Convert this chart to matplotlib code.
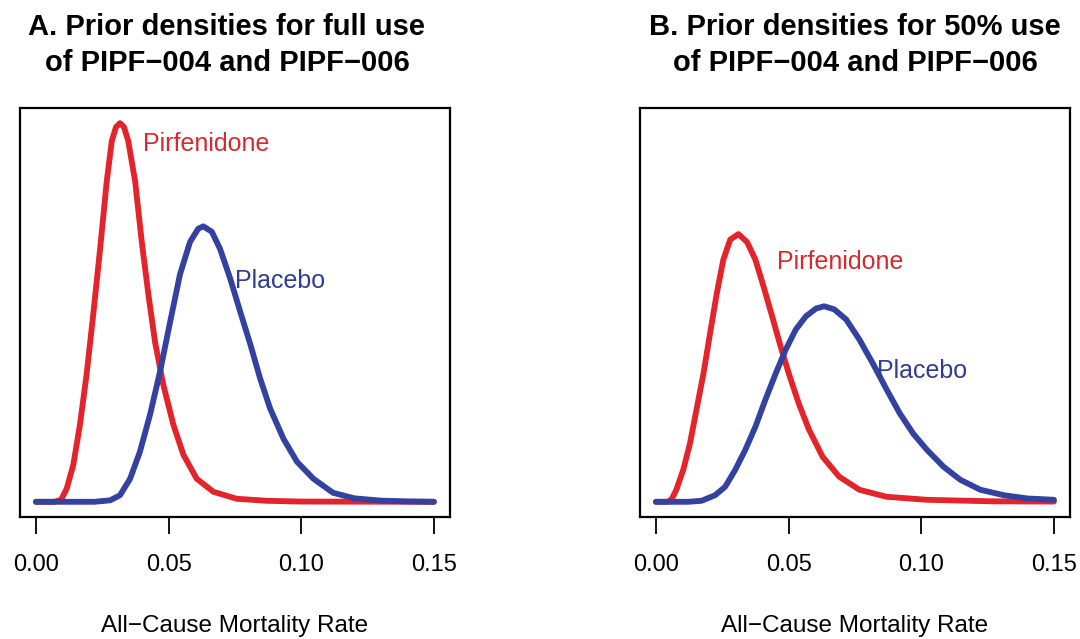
import matplotlib
matplotlib.use("Agg")
import matplotlib.pyplot as plt
import numpy as np

plt.rcParams["font.family"] = ["Liberation Sans", "DejaVu Sans"]

a_pirf_x = [0.000, 0.007, 0.0095, 0.0116, 0.0141, 0.0166, 0.0191, 0.0216, 0.0242, 0.0267,
            0.0286, 0.0302, 0.0317, 0.0332, 0.0348, 0.0374, 0.0399, 0.0424, 0.0449, 0.048,
            0.0518, 0.0556, 0.0606, 0.0669, 0.0757, 0.087, 0.10, 0.15]
a_pirf_y = [0, 0, 0.26, 1.68, 4.77, 9.94, 16.4, 24.1, 32.6, 41.3,
            46.5, 48.3, 48.8, 48.3, 46.5, 41.3, 33.5, 26.7, 20.6, 15.1,
            9.94, 6.06, 2.97, 1.29, 0.39, 0.13, 0.03, 0]

a_plac_x = [0.000, 0.022, 0.028, 0.0317, 0.0355, 0.0392, 0.043, 0.0468, 0.0506, 0.0543,
            0.0581, 0.0612, 0.0631, 0.0663, 0.0694, 0.0732, 0.077, 0.0808, 0.0845, 0.0883,
            0.0933, 0.0984, 0.1046, 0.112, 0.12, 0.13, 0.14, 0.15]
a_plac_y = [0, 0, 0.19, 0.85, 2.97, 6.45, 11.2, 16.8, 23.2, 29.3,
            33.5, 35.2, 35.5, 34.8, 32.6, 28.8, 24.5, 20.3, 15.9, 12.0,
            8.13, 5.16, 2.97, 1.16, 0.45, 0.15, 0.05, 0]

b_pirf_x = [0.000, 0.0046, 0.006, 0.0077, 0.0103, 0.0128, 0.0153, 0.0179, 0.0204, 0.0229,
            0.0254, 0.028, 0.0311, 0.0343, 0.0375, 0.0406, 0.0438, 0.047, 0.0501, 0.0539,
            0.0577, 0.0628, 0.0691, 0.0767, 0.0869, 0.102, 0.127, 0.15]
b_pirf_y = [0, 0, 0.39, 1.55, 4.13, 7.48, 11.9, 16.5, 21.7, 26.8,
            31.2, 33.8, 34.5, 33.5, 31.2, 27.7, 23.9, 20.0, 16.5, 12.6,
            9.29, 5.81, 3.23, 1.55, 0.65, 0.26, 0.06, 0.03]

b_plac_x = [0.000, 0.012, 0.0172, 0.0223, 0.0261, 0.0299, 0.0337, 0.0375, 0.0413, 0.0451,
            0.0489, 0.0527, 0.0565, 0.0603, 0.0634, 0.0672, 0.0717, 0.0767, 0.0818, 0.0869,
            0.0919, 0.097, 0.1021, 0.1084, 0.1147, 0.1223, 0.1311, 0.14, 0.15]
b_plac_y = [0, 0, 0.13, 0.85, 1.94, 4.13, 6.71, 9.68, 13.2, 16.5,
            19.6, 22.2, 23.9, 24.9, 25.2, 24.8, 23.5, 20.9, 17.8, 14.5,
            11.4, 8.77, 6.71, 4.52, 2.84, 1.55, 0.85, 0.43, 0.26]

x_ticks = [0.00, 0.05, 0.10, 0.15]
x_tick_labels = ["0.00", "0.05", "0.10", "0.15"]

titles = ["A. Prior densities for full use\nof PIPF\u2212004 and PIPF\u2212006",
          "B. Prior densities for 50% use\nof PIPF\u2212004 and PIPF\u2212006"]
xlabel = "All\u2212Cause Mortality Rate"

# label anchor points (data coords) for each panel
pirf_label_pos = [(0.0404, 46.1), (0.0456, 30.9)]
plac_label_pos = [(0.0751, 28.4), (0.0832, 16.9)]

RED = "#e3242b"
BLUE = "#3341a0"
RED_TXT = "#d52b2f"
BLUE_TXT = "#313d92"

fig = plt.figure(figsize=(10.8, 6.39), dpi=100)
ax_a = fig.add_axes([0.0185, 0.191, 0.398, 0.640])
ax_b = fig.add_axes([0.5926, 0.191, 0.398, 0.640])

ymax = max(a_pirf_y)
panels = [(ax_a, a_pirf_x, a_pirf_y, a_plac_x, a_plac_y),
          (ax_b, b_pirf_x, b_pirf_y, b_plac_x, b_plac_y)]

for i, (ax, px, py, bx, by) in enumerate(panels):
    ax.plot(px, py, color=RED, lw=4.2, solid_capstyle="round", solid_joinstyle="round")
    ax.plot(bx, by, color=BLUE, lw=4.2, solid_capstyle="round", solid_joinstyle="round")
    ax.set_xlim(-0.006, 0.156)
    ax.set_ylim(-0.04 * ymax, 1.04 * ymax)
    ax.set_yticks([])
    ax.set_xticks(x_ticks)
    ax.set_xticklabels(x_tick_labels)
    ax.tick_params(axis="x", length=12, width=1.3, pad=15, labelsize=17)
    for sp in ax.spines.values():
        sp.set_linewidth(1.6)
    ax.set_xlabel(xlabel, fontsize=17.5, labelpad=28)
    lx, ly = pirf_label_pos[i]
    ax.text(lx, ly, "Pirfenidone", color=RED_TXT, fontsize=18, va="center", ha="left")
    lx, ly = plac_label_pos[i]
    ax.text(lx, ly, "Placebo", color=BLUE_TXT, fontsize=18, va="center", ha="left")

fig.text(227 / 1080, 1 - 45 / 639, titles[0], ha="center", va="center",
         fontsize=21, fontweight="bold", linespacing=1.32)
fig.text(855 / 1080, 1 - 45 / 639, titles[1], ha="center", va="center",
         fontsize=21, fontweight="bold", linespacing=1.32)

fig.savefig("out.png", dpi=100)
